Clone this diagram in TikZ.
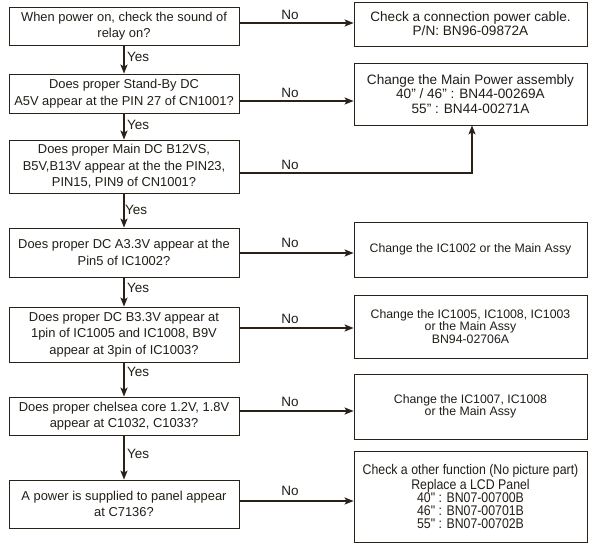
\documentclass[tikz,border=0pt]{standalone}
\usepackage{fontspec}
\setmainfont{Liberation Sans}
\newfontfamily\narrowfam[FakeStretch=0.88]{Liberation Sans}
\usetikzlibrary{arrows.meta}
\definecolor{ink}{RGB}{42,34,24}
\definecolor{txt}{RGB}{34,30,24}
\newcommand{\qq}{\symbol{34}}
\begin{document}
\begin{tikzpicture}[x=1pt,y=-1pt,
  qbox/.style={draw=ink,line width=0.8pt,inner sep=0pt,align=center,text=txt,
    minimum width=230pt,font=\fontsize{12.9}{16.5}\selectfont},
  abox/.style={draw=ink,line width=0.8pt,inner sep=0pt,align=center,text=txt,
    minimum width=233pt,font=\fontsize{12.3}{12.5}\selectfont},
  tallbox/.style={abox,font=\narrowfam\fontsize{14}{13}\selectfont},
  bbox/.style={abox,font=\fontsize{13.6}{14.2}\selectfont},
  arr/.style={draw=ink,line width=1.6pt,-{Stealth[length=9pt,width=7pt,inset=2pt]}},
  lab/.style={text=txt,inner sep=0pt,font=\fontsize{13.5}{14}\selectfont}]
\useasboundingbox (0,0) rectangle (601,554);
\fill[white] (0,0) rectangle (601,554);
% question boxes
\node[qbox,minimum height=38pt] (b1) at (124,26) {When power on, check the sound of\\relay on?};
\node[qbox,minimum height=39pt] (b2) at (124,93.5) {Does proper Stand-By DC\\A5V appear at the PIN 27 of CN1001?};
\node[qbox,minimum height=53pt] (b3) at (124,166.5) {Does proper Main DC B12VS,\\B5V,B13V appear at the the PIN23,\\PIN15, PIN9 of CN1001?};
\node[qbox,minimum height=49pt] (b4) at (124,252.5) {Does proper DC A3.3V appear at the\\Pin5 of IC1002?};
\node[qbox,minimum height=55pt] (b5) at (124,334.5) {Does proper DC B3.3V appear at\\1pin of IC1005 and IC1008, B9V\\appear at 3pin of IC1003?};
\node[qbox,minimum height=38pt] (b6) at (124,416) {Does proper chelsea core 1.2V, 1.8V\\appear at C1032, C1033?};
\node[qbox,minimum height=48pt] (b7) at (124,504) {A power is supplied to panel appear\\at C7136?};
% action boxes
\node[bbox,minimum height=44pt] (r1) at (470.5,24) {Check a connection power cable.\\P/N: BN96-09872A};
\node[bbox,minimum height=62pt] (r2) at (470.5,94) {\raisebox{2pt}{\parbox{233pt}{\centering Change the Main Power assembly\\40\qq{} / 46\qq{} : BN44-00269A\\55\qq{} : BN44-00271A}}};
\node[abox,minimum height=55pt] (r3) at (470.5,249.5) {Change the IC1002 or the Main Assy};
\node[abox,minimum height=63pt] (r4) at (470.5,326.5) {Change the IC1005, IC1008, IC1003\\or the Main Assy\\BN94-02706A};
\node[abox,minimum height=65pt] (r5) at (470.5,406.5) {Change the IC1007, IC1008\\or the Main Assy};
\node[tallbox,minimum height=91pt] (r6) at (470.5,496.5) {Check a other function (No picture part)\\Replace a LCD Panel\\40\qq{} : BN07-00700B\\46\qq{} : BN07-00701B\\55\qq{} : BN07-00702B};
% Yes arrows
\draw[arr] (b1) -- (b2);
\draw[arr] (b2) -- (b3);
\draw[arr] (b3) -- (b4);
\draw[arr] (b4) -- (b5);
\draw[arr] (b5) -- (b6);
\draw[arr] (b6) -- (b7);
\node[lab,anchor=west] (y1) at (127,57) {Yes};
\node[lab,anchor=west] (y2) at (127,125) {Yes};
\node[lab,anchor=west] (y3) at (125,210) {Yes};
\node[lab,anchor=west] (y4) at (127,288) {Yes};
\node[lab,anchor=west] (y5) at (127,372) {Yes};
\node[lab,anchor=west] (y6) at (127,454) {Yes};
% No arrows
\draw[arr] ([yshift=3pt]b1.east) -- ([yshift=3pt]b1.east -| r1.west);
\draw[arr] ([yshift=-7.5pt]b2.east) -- ([yshift=-7.5pt]b2.east -| r2.west);
\draw[arr] ([yshift=-6.5pt]b3.east) -| ([xshift=1.5pt]r2.south);
\draw[arr] ([yshift=-0.5pt]b4.east) -- ([yshift=-0.5pt]b4.east -| r3.west);
\draw[arr] ([yshift=6.5pt]b5.east) -- ([yshift=6.5pt]b5.east -| r4.west);
\draw[arr] ([yshift=5pt]b6.east) -- ([yshift=5pt]b6.east -| r5.west);
\draw[arr] ([yshift=3pt]b7.east) -- ([yshift=3pt]b7.east -| r6.west);
\node[lab] (n1) at (290,15) {No};
\node[lab] (n2) at (290,93) {No};
\node[lab] (n3) at (290,165) {No};
\node[lab] (n4) at (290,243) {No};
\node[lab] (n5) at (290,319) {No};
\node[lab] (n6) at (290,402) {No};
\node[lab] (n7) at (290,491) {No};
\end{tikzpicture}
\end{document}
